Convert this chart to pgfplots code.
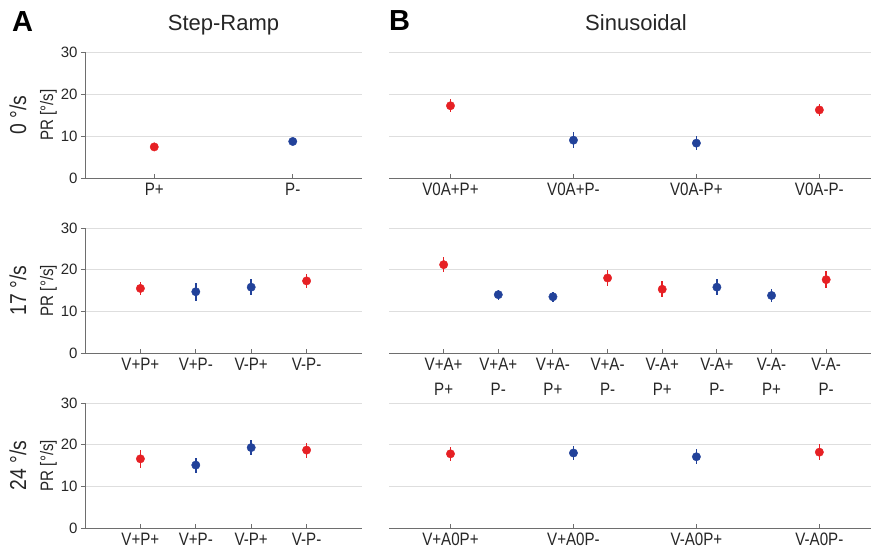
\documentclass[border=0pt]{standalone}
\usepackage{fontspec}
\setmainfont{Liberation Sans}
\newfontfamily\narrowfont{Liberation Sans}[FakeStretch=0.84]
\usepackage{pgfplots}
\pgfplotsset{compat=1.18}

\definecolor{ptred}{RGB}{230,32,36}
\definecolor{ptblue}{RGB}{34,66,154}
\definecolor{axgray}{RGB}{110,110,110}
\definecolor{gridgray}{RGB}{222,222,222}
\definecolor{txt}{RGB}{38,38,38}

\pgfplotsset{
  panel/.style={
    scale only axis, anchor=south west, clip=false,
    axis lines*=left,
    axis line style={-, draw=axgray, line width=0.9pt},
    ymin=0, ymax=30, ytick={0,10,20,30},
    ymajorgrids, grid style={draw=gridgray, line width=0.8pt},
    xtick pos=bottom, ytick pos=left,
    xtick align=inside, ytick align=outside,
    major tick length=4pt,
    tick style={draw=axgray, line width=0.9pt},
    yticklabel style={font=\fontsize{15}{18}\selectfont, text=txt},
    xticklabel style={font=\narrowfont\fontsize{18}{25}\selectfont, text=txt, inner sep=5pt},
    /pgf/number format/assume math mode=true,
    title style={font=\fontsize{22}{26}\selectfont, text=txt,
                 at={(0.5,1)}, anchor=base, yshift=15.5pt},
  },
  leftpanel/.style={panel, width=277pt, ylabel shift=-3pt,
    ylabel style={align=center, text=txt,
      font=\narrowfont\fontsize{18}{27}\selectfont}},
  rightpanel/.style={panel, width=482pt, yticklabels={},
    y axis line style={draw=none}, ytick style={draw=none}},
  dot/.style={color=#1, only marks, mark=*, mark size=4.2pt,
    mark options={fill=#1, draw=#1, line width=0.4pt},
    error bars/y dir=both, error bars/y explicit,
    error bars/error mark=none,
    error bars/error bar style={line width=1.6pt, color=#1}},
}

\newcommand{\rowlabel}[1]{{\fontsize{23}{27}\selectfont #1 °/s}\\PR [°/s]}

\begin{document}
\begin{tikzpicture}
\useasboundingbox (0,0) rectangle (871pt,549pt);

% ---------- Step-Ramp, 0 deg/s ----------
\begin{axis}[leftpanel, at={(85pt,371pt)}, height=126pt,
  xmin=0.5, xmax=2.5, xtick={1,2}, xticklabels={P+,P-},
  title={Step-Ramp}, ylabel={\rowlabel{0}}]
\addplot[dot=ptred] table[x=x, y=y, y error=e] {
x y e
1 7.4 0.6
};
\addplot[dot=ptblue] table[x=x, y=y, y error=e] {
x y e
2 8.7 0.9
};
\end{axis}

% ---------- Sinusoidal, 0 deg/s ----------
\begin{axis}[rightpanel, at={(389pt,371pt)}, height=126pt,
  xmin=0.5, xmax=4.42, xtick={1,2,3,4},
  xticklabels={V0A+P+,V0A+P-,V0A-P+,V0A-P-},
  title={Sinusoidal}, title style={xshift=6pt}]
\addplot[dot=ptred] table[x=x, y=y, y error=e] {
x y e
1 17.2 1.5
4 16.2 1.4
};
\addplot[dot=ptblue] table[x=x, y=y, y error=e] {
x y e
2 9.0 1.9
3 8.3 1.7
};
\end{axis}

% ---------- Step-Ramp, 17 deg/s ----------
\begin{axis}[leftpanel, at={(85pt,196pt)}, height=125pt,
  xmin=0, xmax=5, xtick={1,2,3,4},
  xticklabels={V+P+,V+P-,V-P+,V-P-}, ylabel={\rowlabel{17}}]
\addplot[dot=ptred] table[x=x, y=y, y error=e] {
x y e
1 15.5 1.6
4 17.3 1.6
};
\addplot[dot=ptblue] table[x=x, y=y, y error=e] {
x y e
2 14.7 2.2
3 15.8 1.9
};
\end{axis}

% ---------- Sinusoidal, 17 deg/s ----------
\begin{axis}[rightpanel, at={(389pt,196pt)}, height=125pt,
  xmin=0, xmax=8.82, xtick={1,...,8},
  xticklabel style={align=center},
  xticklabels={{V+A+\\P+},{V+A+\\P-},{V+A-\\P+},{V+A-\\P-},
               {V-A+\\P+},{V-A+\\P-},{V-A-\\P+},{V-A-\\P-}}]
\addplot[dot=ptred] table[x=x, y=y, y error=e] {
x y e
1 21.2 1.8
4 18.0 1.9
5 15.3 1.9
8 17.6 2.1
};
\addplot[dot=ptblue] table[x=x, y=y, y error=e] {
x y e
2 14.0 1.2
3 13.5 1.2
6 15.8 1.9
7 13.8 1.6
};
\end{axis}

% ---------- Step-Ramp, 24 deg/s ----------
\begin{axis}[leftpanel, at={(85pt,21pt)}, height=125pt,
  xmin=0, xmax=5, xtick={1,2,3,4},
  xticklabels={V+P+,V+P-,V-P+,V-P-}, ylabel={\rowlabel{24}}]
\addplot[dot=ptred] table[x=x, y=y, y error=e] {
x y e
1 16.6 2.2
4 18.7 1.8
};
\addplot[dot=ptblue] table[x=x, y=y, y error=e] {
x y e
2 15.1 1.8
3 19.3 1.8
};
\end{axis}

% ---------- Sinusoidal, 24 deg/s ----------
\begin{axis}[rightpanel, at={(389pt,21pt)}, height=125pt,
  xmin=0.5, xmax=4.42, xtick={1,2,3,4},
  xticklabels={V+A0P+,V+A0P-,V-A0P+,V-A0P-}]
\addplot[dot=ptred] table[x=x, y=y, y error=e] {
x y e
1 17.8 1.7
4 18.2 1.9
};
\addplot[dot=ptblue] table[x=x, y=y, y error=e] {
x y e
2 18.0 1.7
3 17.1 1.8
};
\end{axis}

% panel letters
\node[anchor=base west, font=\fontsize{29}{34}\selectfont\bfseries, inner sep=0pt] at (12pt,517pt) {A};
\node[anchor=base west, font=\fontsize{29}{34}\selectfont\bfseries, inner sep=0pt] at (389pt,518pt) {B};
\end{tikzpicture}
\end{document}
